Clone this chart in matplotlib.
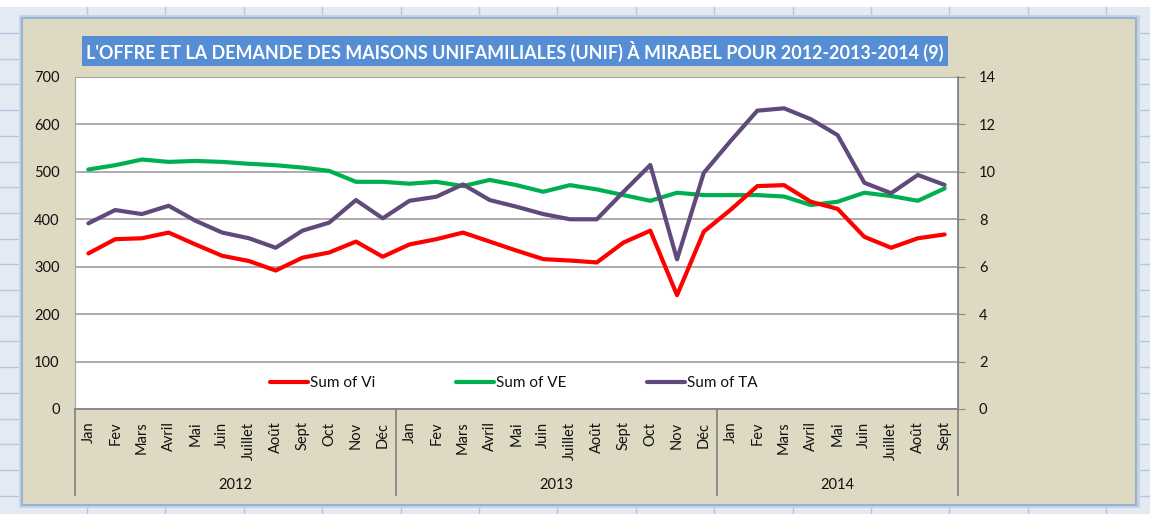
import matplotlib
matplotlib.use("Agg")
import matplotlib.pyplot as plt
import matplotlib.transforms as mtransforms
from matplotlib.patches import Rectangle
from matplotlib.lines import Line2D
import numpy as np

# ---------------- data ----------------
months = ["Jan", "Fev", "Mars", "Avril", "Mai", "Juin", "Juillet", "Août", "Sept", "Oct", "Nov", "Déc"]
month_labels = months + months + months[:9]
years = ["2012", "2013", "2014"]
year_counts = [12, 12, 9]

vi = [328, 358, 360, 372, 347, 323, 312, 292, 319, 330, 353, 321,
      347, 358, 372, 353, 334, 316, 313, 309, 351, 376, 240, 374,
      420, 470, 472, 437, 422, 363, 340, 360, 368]
ve = [505, 514, 526, 521, 523, 521, 517, 514, 509, 502, 479, 479,
      475, 479, 470, 483, 472, 458, 472, 463, 451, 439, 456, 451,
      451, 451, 448, 430, 437, 456, 449, 439, 465]
ta = [7.83, 8.39, 8.22, 8.57, 7.94, 7.44, 7.20, 6.80, 7.52, 7.86, 8.81, 8.04,
      8.78, 8.95, 9.47, 8.81, 8.53, 8.22, 8.00, 8.00, 9.16, 10.29, 6.31, 9.96,
      11.30, 12.58, 12.68, 12.22, 11.55, 9.54, 9.10, 9.87, 9.45]

title = "L'OFFRE ET LA DEMANDE DES MAISONS UNIFAMILIALES (UNIF) À MIRABEL POUR 2012-2013-2014 (9)"
series_names = ["Sum of Vi", "Sum of VE", "Sum of TA"]

# ---------------- figure ----------------
W, H = 1150, 514
fig = plt.figure(figsize=(W / 100, H / 100), dpi=100)
fig.patch.set_facecolor("white")

def fx(x):
    return x / W

def fy(y):
    return 1 - y / H

# spreadsheet background
fig.add_artist(Rectangle((0, 0), 1, fy(7), transform=fig.transFigure,
                         facecolor="#e3eaf4", edgecolor="none", zorder=-3))
for k in range(16):
    xx = 87 + 78.4 * k
    fig.add_artist(Line2D([fx(xx), fx(xx)], [0, fy(7)], transform=fig.transFigure,
                          color="#b4c8e2", lw=1, zorder=-2.5))
for k in range(21):
    yy = 33 + 25.7 * k
    fig.add_artist(Line2D([0, 1], [fy(yy), fy(yy)], transform=fig.transFigure,
                          color="#b4c8e2", lw=1, zorder=-2.5))
# shadow + chart area
fig.add_artist(Rectangle((fx(19), fy(508)), fx(1121), fy(15) - fy(508), transform=fig.transFigure,
                         facecolor="#c9d3e0", edgecolor="none", zorder=-2))
fig.add_artist(Rectangle((fx(22), fy(505)), fx(1114), fy(18) - fy(505), transform=fig.transFigure,
                         facecolor="#ddd9c3", edgecolor="#95b3d7", lw=1.5, zorder=-1.5))

# title box
fig.add_artist(Rectangle((fx(82), fy(66)), fx(866), fy(36) - fy(66), transform=fig.transFigure,
                         facecolor="#558ed5", edgecolor="none", zorder=-1))
ttl = fig.text(fx(515), fy(51.5), title, ha="center", va="center", color="white",
               fontsize=14.5, fontweight="bold",
               family=["Lato", "DejaVu Sans"], zorder=1)
renderer = fig.canvas.get_renderer()
w = ttl.get_window_extent(renderer).width
ttl.set_fontsize(14.5 * 856 / w)

# ---------------- axes ----------------
ax = fig.add_axes([fx(75), fy(409), fx(958) - fx(75), fy(77) - fy(409)])
ax.set_facecolor("white")
x = np.arange(len(vi))

red, green, purple = "#ff0000", "#00b050", "#604a7b"
l1, = ax.plot(x, vi, color=red, lw=3, solid_joinstyle="round", solid_capstyle="round", zorder=3)
l2, = ax.plot(x, ve, color=green, lw=3, solid_joinstyle="round", solid_capstyle="round", zorder=2)

ax.set_xlim(-0.5, len(vi) - 0.5)
ax.set_ylim(0, 700)
ax.set_yticks(range(0, 701, 100))
ax.grid(axis="y", color="#a6a6a6", lw=1.3)
ax.set_axisbelow(True)

fam = ["Lato", "DejaVu Sans"]
ax.set_xticks(x)
ax.set_xticklabels(month_labels, rotation=90, va="top", ha="center", family=fam, size=10.5, color="#111111")
ax.tick_params(axis="x", length=0, pad=9)
ax.tick_params(axis="y", length=0, pad=11, labelsize=10.5, labelcolor="#111111")
for lab in ax.get_yticklabels():
    lab.set_family(fam)

for s in ["left", "top", "right"]:
    ax.spines[s].set_color("#a6a6a6")
ax.spines["bottom"].set_color("#868686")
ax.spines["bottom"].set_linewidth(1.3)

ax2 = ax.twinx()
l3, = ax2.plot(x, ta, color=purple, lw=3, solid_joinstyle="round", solid_capstyle="round", zorder=4)
ax2.set_ylim(0, 14)
ax2.set_yticks(range(0, 15, 2))
ax2.tick_params(axis="y", length=5, pad=10, labelsize=10.5, labelcolor="#111111", color="#868686")
for lab in ax2.get_yticklabels():
    lab.set_family(fam)
for s in ["left", "top", "bottom"]:
    ax2.spines[s].set_visible(False)
ax2.spines["right"].set_color("#868686")
ax2.spines["right"].set_linewidth(1.3)

# category grouping (years)
trans = mtransforms.blended_transform_factory(ax.transData, ax.transAxes)
bottom_ext = -(495 - 409) / 332
bounds = [-0.5]
for c in year_counts:
    bounds.append(bounds[-1] + c)
for b in bounds:
    ax.add_line(Line2D([b, b], [0, bottom_ext], transform=trans, color="#868686",
                       lw=1.3, clip_on=False))
for i, yr in enumerate(years):
    ax.text((bounds[i] + bounds[i + 1]) / 2, -(485 - 409) / 332, yr, transform=trans,
            ha="center", va="center", fontsize=10.5, family=fam, color="#111111")

leg = ax2.legend([l1, l2, l3], series_names, loc="center", bbox_to_anchor=(0.497, (409 - 383) / 332),
                 ncol=3, frameon=False, handlelength=2.45, handletextpad=0.15, columnspacing=5.3,
                 prop=dict(family=fam, size=11))
for t in leg.get_texts():
    t.set_color("#111111")

fig.savefig("out.png", dpi=100)
